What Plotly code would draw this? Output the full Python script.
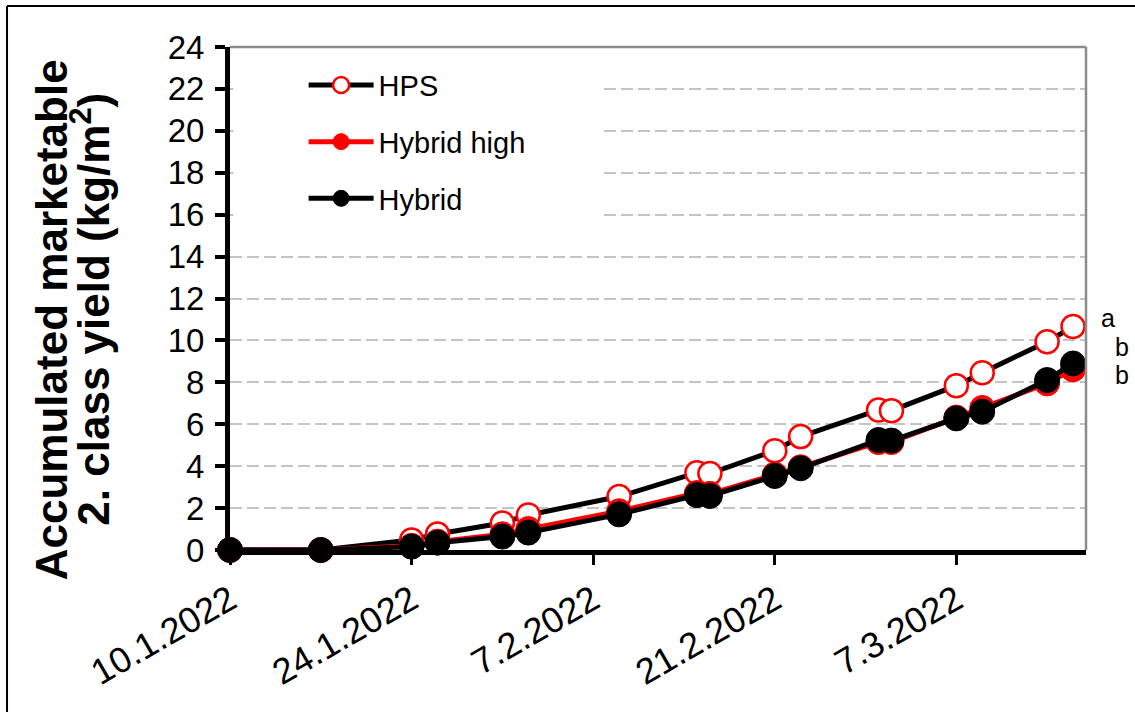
import plotly.graph_objects as go

# Harvest dates and accumulated marketable 2. class yield (kg/m2)
dates = ["2022-01-10", "2022-01-17", "2022-01-24", "2022-01-26", "2022-01-31",
         "2022-02-02", "2022-02-09", "2022-02-15", "2022-02-16", "2022-02-21",
         "2022-02-23", "2022-03-01", "2022-03-02", "2022-03-07", "2022-03-09",
         "2022-03-14", "2022-03-16"]
hps = [0, 0, 0.48, 0.76, 1.29, 1.67, 2.55, 3.69, 3.65, 4.74, 5.41, 6.68, 6.65,
       7.84, 8.46, 9.94, 10.66]
hybrid_high = [0, 0, 0.20, 0.40, 0.75, 1.00, 1.85, 2.72, 2.68, 3.60, 3.95, 5.15,
               5.15, 6.32, 6.78, 7.95, 8.62]
hybrid = [0, 0, 0.16, 0.35, 0.64, 0.83, 1.70, 2.62, 2.58, 3.53, 3.90, 5.25, 5.22,
          6.28, 6.60, 8.11, 8.90]

series_names = ["HPS", "Hybrid high", "Hybrid"]
significance = ["a", "b", "b"]
y_ticks = list(range(0, 25, 2))

FONT = "Arial, Liberation Sans, sans-serif"

fig = go.Figure()

fig.add_trace(go.Scatter(
    x=dates, y=hps, name=series_names[0], mode="lines+markers",
    legendgroup="g1", cliponaxis=False,
    line=dict(color="black", width=5),
    marker=dict(symbol="circle", size=23, color="white",
                line=dict(color="#FF0000", width=2.5)),
))
fig.add_trace(go.Scatter(
    x=dates, y=hybrid_high, name=series_names[1], mode="lines+markers",
    legendgroup="g2", cliponaxis=False,
    line=dict(color="#FF0000", width=5),
    marker=dict(symbol="circle", size=25, color="#FF0000",
                line=dict(color="#FF0000", width=1)),
))
fig.add_trace(go.Scatter(
    x=dates, y=hybrid, name=series_names[2], mode="lines+markers",
    legendgroup="g3", cliponaxis=False,
    line=dict(color="black", width=5),
    marker=dict(symbol="circle", size=25, color="black",
                line=dict(color="black", width=1)),
))

# Significance letters next to the final harvest values
letter_offsets = [(1.026, 9), (1.042, -6), (1.042, 16)]
finals = [hps[-1], hybrid_high[-1], hybrid[-1]]
for letter, final, (px, shift) in zip(significance, finals, letter_offsets):
    fig.add_annotation(x=px, xref="paper", y=final, yref="y", yshift=shift,
                       text=letter, showarrow=False, xanchor="center",
                       yanchor="middle", font=dict(family=FONT, size=25, color="black"))

# Two-line y-axis title
fig.add_annotation(x=-0.209, y=0.457, xref="paper", yref="paper",
                   text="<b>Accumulated marketable</b>", textangle=-90,
                   showarrow=False, xanchor="center", yanchor="middle",
                   font=dict(family=FONT, size=44, color="black"))
fig.add_annotation(x=-0.164, y=0.479, xref="paper", yref="paper",
                   text="<b>2. class yield (kg/m<sup>2</sup>)</b>", textangle=-90,
                   showarrow=False, xanchor="center", yanchor="middle",
                   font=dict(family=FONT, size=44, color="black"))

# White panel behind the legend hiding the upper gridlines
fig.add_shape(type="rect", xref="paper", yref="y", x0=0.004, x1=0.4357,
              y0=15, y1=23, fillcolor="white", line=dict(width=0), layer="above")
# Gray top and right frame of the plot area
fig.add_shape(type="line", xref="paper", yref="paper", x0=0, x1=1, y0=1, y1=1,
              line=dict(color="#8C8C8C", width=2.5))
fig.add_shape(type="line", xref="paper", yref="paper", x0=1, x1=1, y0=0, y1=1,
              line=dict(color="#8C8C8C", width=2.5))
# Outer black border of the figure
fig.add_shape(type="line", xref="paper", yref="paper", x0=-0.2605, x1=1.1,
              y0=1.0815, y1=1.0815, line=dict(color="black", width=2))
fig.add_shape(type="line", xref="paper", yref="paper", x0=-0.2605, x1=-0.2605,
              y0=1.0815, y1=-0.4, line=dict(color="black", width=2))

fig.update_layout(
    width=1135, height=712,
    margin=dict(l=230, r=49, t=47, b=162),
    paper_bgcolor="white", plot_bgcolor="white",
    font=dict(family=FONT, color="black"),
    showlegend=True,
    legend=dict(x=0.086, y=0.975, xanchor="left", yanchor="top",
                bgcolor="rgba(0,0,0,0)", font=dict(family=FONT, size=29),
                itemwidth=65, tracegroupgap=16, traceorder="grouped"),
    xaxis=dict(
        type="date", range=["2022-01-10", "2022-03-17"],
        tick0="2022-01-10", dtick=14 * 86400000, tickformat="%-d.%-m.%Y",
        tickangle=-30, ticks="outside", ticklen=10, tickwidth=3, tickcolor="black",
        showline=True, linecolor="black", linewidth=5, showgrid=False,
        zeroline=False, tickfont=dict(family=FONT, size=36, color="black"),
    ),
    yaxis=dict(
        range=[0, 24], tickvals=y_ticks, ticks="outside", ticklen=10,
        tickwidth=3.5, tickcolor="black", showline=True, linecolor="black",
        linewidth=5, showgrid=True, gridcolor="#C4C4C4", gridwidth=1.5,
        griddash="12px,5px", zeroline=False, ticklabelstandoff=4,
        tickfont=dict(family=FONT, size=33, color="black"),
    ),
)

fig.write_html("out.html")
